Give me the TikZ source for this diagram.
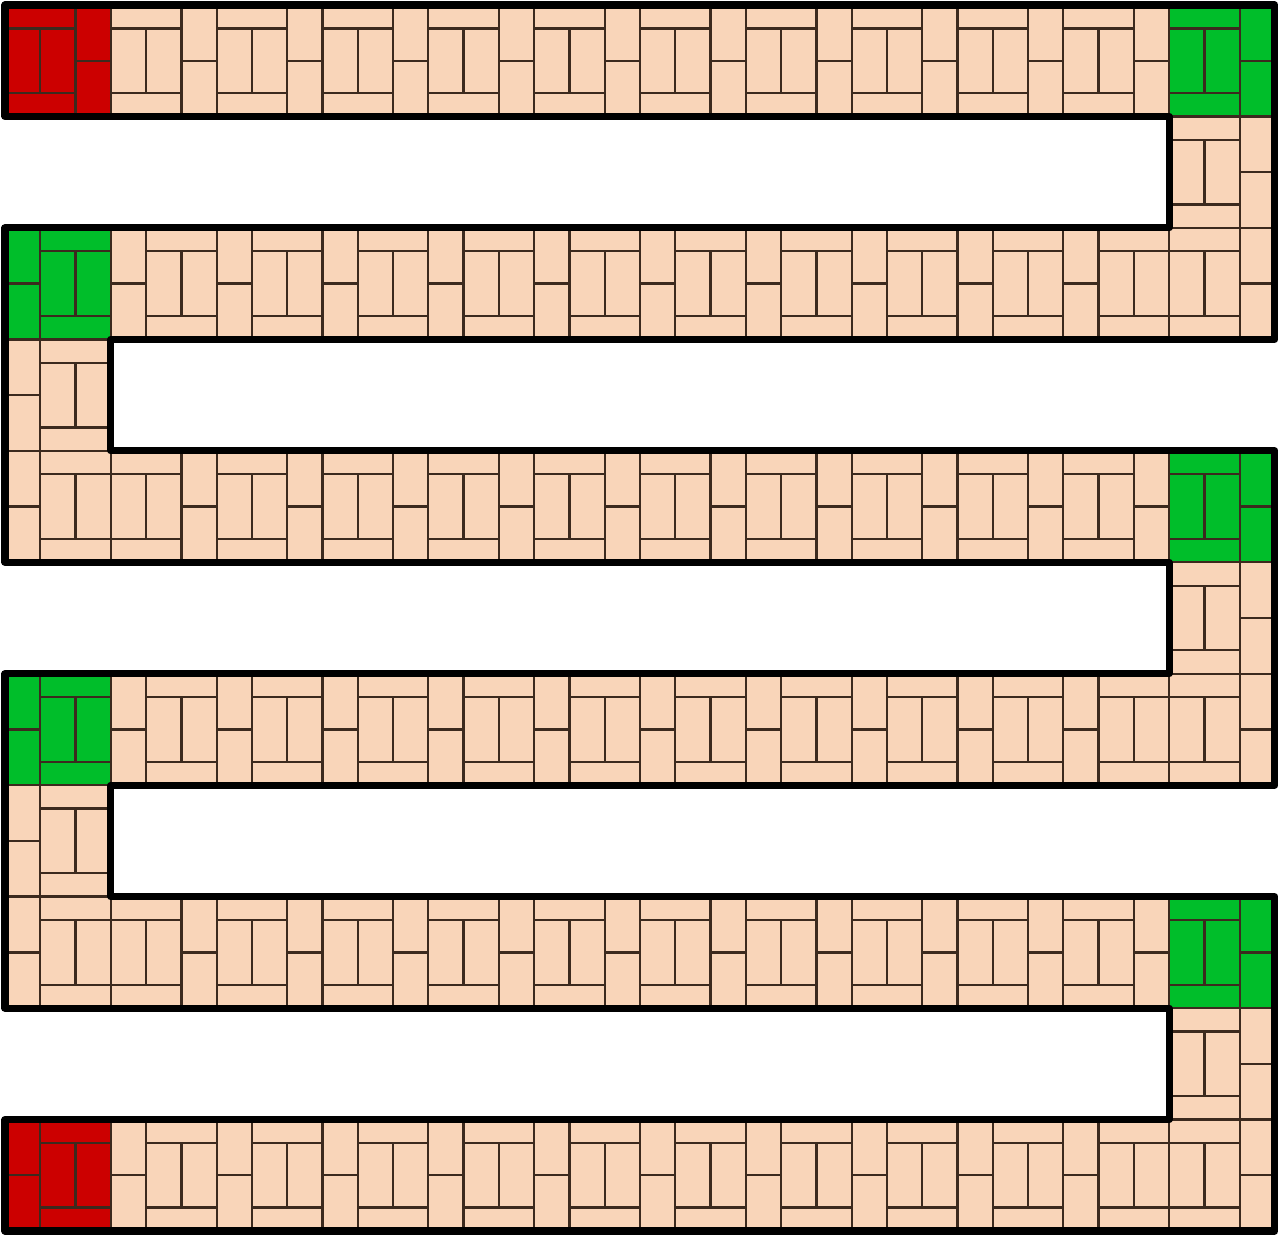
\documentclass[tikz,border=0pt]{standalone}
\usepackage{tikz}

\definecolor{peach}{RGB}{249,213,185}
\definecolor{tred}{RGB}{204,0,0}
\definecolor{tgreen}{RGB}{0,190,42}
\definecolor{edge}{RGB}{60,42,30}

\tikzset{tile/.style={draw=edge,line width=1.3pt},
  outline/.style={draw=black,line width=4pt,line join=round}}

\newcommand{\barw}{0.21}
% block left, two half tiles right
\newcommand{\cellA}[3]{%
  \begin{scope}[shift={(#1,#2)}]
  \filldraw[tile,fill=#3] (0,0) rectangle (2/3,\barw);
  \filldraw[tile,fill=#3] (0,\barw) rectangle (1/3,1-\barw);
  \filldraw[tile,fill=#3] (1/3,\barw) rectangle (2/3,1-\barw);
  \filldraw[tile,fill=#3] (0,1-\barw) rectangle (2/3,1);
  \filldraw[tile,fill=#3] (2/3,0) rectangle (1,0.5);
  \filldraw[tile,fill=#3] (2/3,0.5) rectangle (1,1);
  \end{scope}}
% two half tiles left, block right
\newcommand{\cellB}[3]{%
  \begin{scope}[shift={(#1,#2)}]
  \filldraw[tile,fill=#3] (0,0) rectangle (1/3,0.5);
  \filldraw[tile,fill=#3] (0,0.5) rectangle (1/3,1);
  \filldraw[tile,fill=#3] (1/3,0) rectangle (1,\barw);
  \filldraw[tile,fill=#3] (1/3,\barw) rectangle (2/3,1-\barw);
  \filldraw[tile,fill=#3] (2/3,\barw) rectangle (1,1-\barw);
  \filldraw[tile,fill=#3] (1/3,1-\barw) rectangle (1,1);
  \end{scope}}

\begin{document}
\begin{tikzpicture}[x=2.1166cm,y=-2.229cm]
\useasboundingbox (-0.0472,-0.0449) rectangle (12.0476,11.0453);
% straight runs
\foreach \i in {1,...,10} {\cellA{\i}{0}{peach}}
\foreach \j in {2,6,10} {\foreach \i in {1,...,10} {\cellB{\i}{\j}{peach}}}
\foreach \j in {4,8} {\foreach \i in {1,...,10} {\cellA{\i}{\j}{peach}}}
% turns on the right
\cellA{11}{0}{tgreen}
\foreach \j in {1,2,5,6,9,10} {\cellA{11}{\j}{peach}}
\cellA{11}{4}{tgreen}
\cellA{11}{8}{tgreen}
% turns on the left
\cellB{0}{2}{tgreen}
\foreach \j in {3,4,7,8} {\cellB{0}{\j}{peach}}
\cellB{0}{6}{tgreen}
% ends
\cellA{0}{0}{tred}
\cellB{0}{10}{tred}
% border of the path
\draw[outline] (0,0) -- (12,0) -- (12,3) -- (1,3) -- (1,4) -- (12,4) -- (12,7)
  -- (1,7) -- (1,8) -- (12,8) -- (12,11) -- (0,11) -- (0,10) -- (11,10)
  -- (11,9) -- (0,9) -- (0,6) -- (11,6) -- (11,5) -- (0,5) -- (0,2)
  -- (11,2) -- (11,1) -- (0,1) -- cycle;
\end{tikzpicture}
\end{document}
